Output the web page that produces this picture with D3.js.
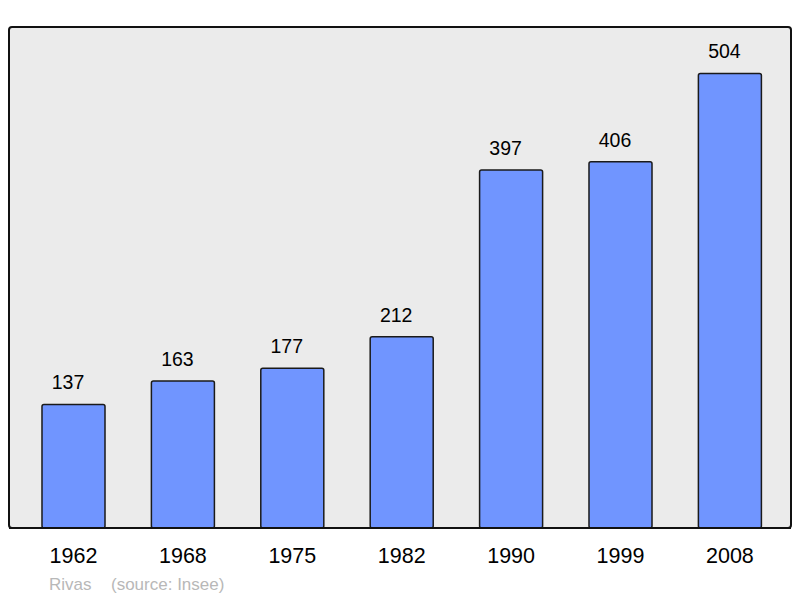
<!DOCTYPE html>
<html><head><meta charset="utf-8">
<script src="https://cdn.jsdelivr.net/npm/d3@7"></script>
<style>html,body{margin:0;padding:0;background:#fff;}</style>
</head><body>
<script>
const years = ["1962","1968","1975","1982","1990","1999","2008"];
const population = [137,163,177,212,397,406,504];
const caption = ["Rivas", "(source: Insee)"];

const W = 800, H = 598;
const svg = d3.select("body").append("svg").attr("width", W).attr("height", H);

const panel = {x0: 9, y0: 27, x1: 791, y1: 528};
svg.append("rect").attr("x", panel.x0).attr("y", panel.y0)
  .attr("width", panel.x1 - panel.x0).attr("height", panel.y1 - panel.y0)
  .attr("rx", 3).attr("fill", "#ebebeb").attr("stroke", "#111").attr("stroke-width", 2);

const x = d3.scaleBand().domain(years).range([18.8, 784.6]).paddingInner(0.424).paddingOuter(0.212);
const y = d3.scaleLinear().domain([0, 555.5]).range([panel.y1, panel.y0]);

svg.selectAll("rect.bar").data(years).join("rect").attr("class","bar")
  .attr("x", d => x(d)).attr("y", (d,i) => y(population[i]))
  .attr("width", x.bandwidth()).attr("height", (d,i) => y(0) - y(population[i]))
  .attr("rx", 2).attr("fill", "#7095ff").attr("stroke", "#1a1a1a").attr("stroke-width", 1.5);

// redraw baseline over bars
svg.append("line").attr("x1", panel.x0).attr("x2", panel.x1).attr("y1", panel.y1).attr("y2", panel.y1)
  .attr("stroke", "#111").attr("stroke-width", 2);

svg.selectAll("text.val").data(years).join("text").attr("class","val")
  .attr("x", d => x(d) + x.bandwidth()/2 - 5.5).attr("y", (d,i) => y(population[i]) - 15)
  .attr("text-anchor","middle").attr("font-family","Liberation Sans, Arial, sans-serif")
  .attr("font-size", 19.5).attr("fill","#000").text((d,i) => population[i]);

const xAxis = d3.axisBottom(x).tickSize(0).tickPadding(0);
const gx = svg.append("g").attr("transform", `translate(0,${panel.y1})`).call(xAxis);
gx.select(".domain").remove();
gx.selectAll("text").attr("font-family","Liberation Sans, Arial, sans-serif")
  .attr("font-size", 21.5).attr("fill","#000").attr("dy", null).attr("y", 35);

svg.append("text").attr("x", 49).attr("y", 590).attr("font-family","Liberation Sans, Arial, sans-serif")
  .attr("font-size", 17).attr("fill","#b8b8b8").text(caption[0]);
svg.append("text").attr("x", 111).attr("y", 590).attr("font-family","Liberation Sans, Arial, sans-serif")
  .attr("font-size", 17).attr("fill","#b8b8b8").text(caption[1]);
</script>
</body></html>
